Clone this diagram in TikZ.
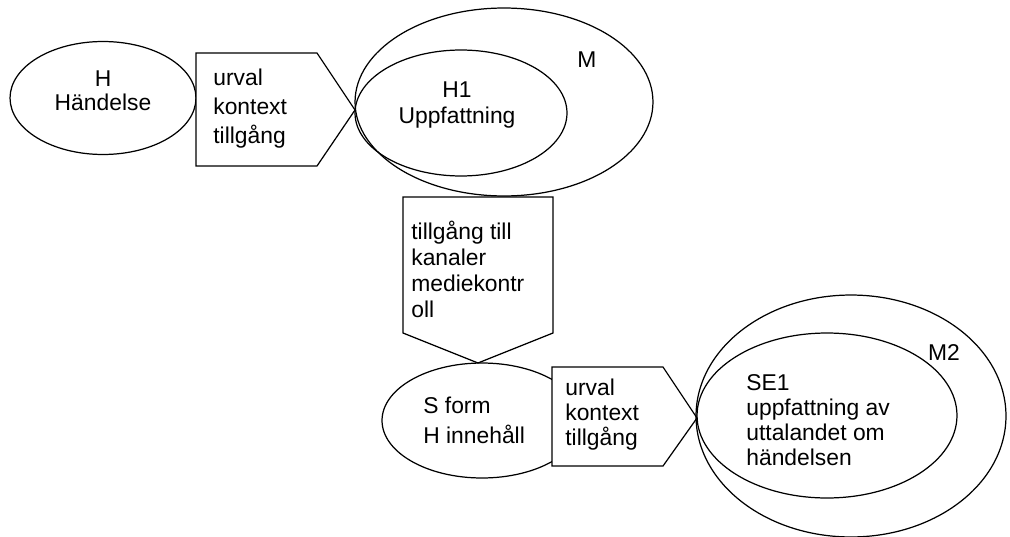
\documentclass[tikz,border=0pt]{standalone}
\usepackage{fontspec}
\setmainfont{Liberation Sans}
\usetikzlibrary{shapes.geometric}
\tikzset{
  oval/.style={draw, ellipse, inner sep=0pt, line width=0.7pt},
  pil/.style={draw, fill=white, line width=0.7pt, line join=miter},
  txt/.style={anchor=west, align=left, inner sep=0pt},
}
\begin{document}
\begin{tikzpicture}[x=0.02cm, y=-0.02cm, font=\fontsize{13}{14.5}\selectfont]
\useasboundingbox (0,0) rectangle (1010,537);
% ellipses under the arrows
\node[oval, minimum width=3.72cm, minimum height=2.26cm] (h) at (103,98) {};
\node[oval, minimum width=4.0cm, minimum height=2.3cm] (s) at (482,420.5) {};
% the three arrow boxes
\draw[pil] (196,53) coordinate (p1nw) -- (317,53) -- (355,110) coordinate (p1tip) -- (317,166) -- (196,166) -- cycle;
\draw[pil] (403,197) coordinate (p2nw) -- (553,197) -- (553,333) -- (478,363) coordinate (p2tip) -- (403,333) -- cycle;
\draw[pil] (552,367) coordinate (p3nw) -- (663,367) -- (697,418) coordinate (p3tip) -- (663,466) -- (552,466) -- cycle;
% ellipses on the right
\node[oval, minimum width=5.96cm, minimum height=3.76cm] (m) at (504,102) {};
\node[oval, minimum width=4.24cm, minimum height=2.52cm] (h1) at (461,113) {};
\node[oval, minimum width=6.2cm, minimum height=4.84cm] (m2) at (851,416) {};
\node[oval, minimum width=5.2cm, minimum height=3.3cm] (se1) at (827,415.5) {};
% texts
\node[align=center, inner sep=0pt, font=\fontsize{13}{13.7}\selectfont] (hTxt) at (103,91) {H\\Händelse};
\node[align=center, inner sep=0pt] (h1Txt) at (457,105) {H1\\Uppfattning};
\node[inner sep=0pt] (mLbl) at (587,60) {M};
\node[inner sep=0pt] (m2Lbl) at (944,353) {M2};
\node[txt, font=\fontsize{13}{16.5}\selectfont] (urval1) at (213,109) {urval\\kontext\\tillgång};
\node[txt, font=\fontsize{13}{14.8}\selectfont] (kanal) at (411,269) {tillgång till\\kanaler\\mediekontr\\oll};
\node[txt, font=\fontsize{13}{17}\selectfont] (sTxt) at (423,420) {S form\\H innehåll};
\node[txt, font=\fontsize{13}{14.2}\selectfont] (urval2) at (565,415) {urval\\kontext\\tillgång};
\node[txt, font=\fontsize{13}{14.2}\selectfont] (se1Txt) at (746,420) {SE1\\uppfattning av\\uttalandet om\\händelsen};
\end{tikzpicture}
\end{document}
